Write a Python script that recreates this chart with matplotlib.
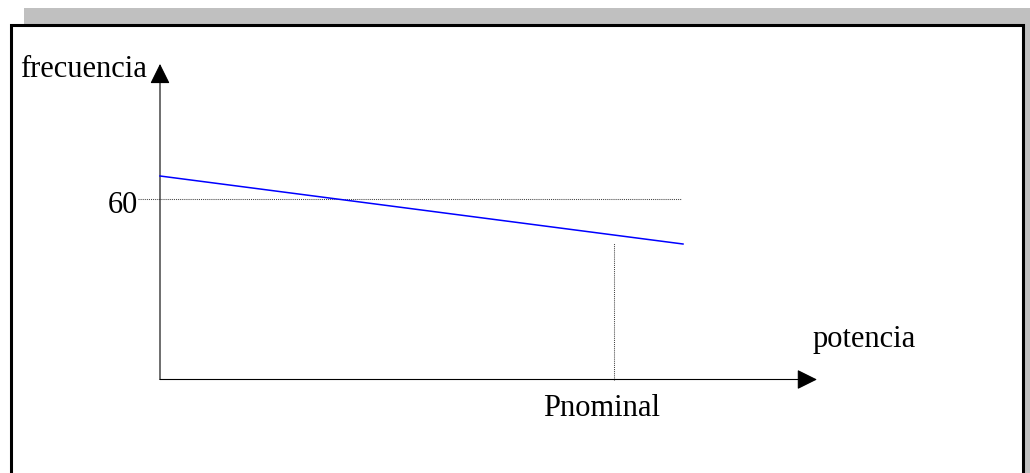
import matplotlib
matplotlib.use('Agg')
import matplotlib.pyplot as plt
from matplotlib.patches import Rectangle

# Diagram values (x: power, Pnominal = 1; y: frequency)
p_nominal = 1.0
f_ref = 60
droop_x = [0.0, 1.152]
droop_f = [67.65, 45.04]
ref_line_x = [-0.048, 1.148]
nominal_top = 45.4
x_axis_end = 1.447
y_axis_end = 104.9

label_y = 'frecuencia'
label_x = 'potencia'
label_nominal = 'Pnominal'
label_ref = '60'

plt.rcParams['font.family'] = ['Liberation Serif', 'DejaVu Serif']

fig = plt.figure(figsize=[10.3, 4.73], dpi=100)
ax = fig.add_axes([0, 0, 1, 1])
ax.set_xlim(-160 / 454, 870 / 454)
ax.set_ylim(-93.5 / 3.0083, 379.5 / 3.0083)
ax.axis('off')

# Shadow and frame
W, H = 1030.0, 473.0
ax.add_patch(Rectangle((24 / W, 0), 1 - 24 / W, 1 - 8 / H, transform=ax.transAxes,
                       facecolor='#c0c0c0', edgecolor='none', zorder=0, clip_on=False))
ax.add_patch(Rectangle((10.5 / W, -10 / H), 1012.5 / W, (473 - 25.5 + 10) / H,
                       transform=ax.transAxes, facecolor='white', edgecolor='black',
                       linewidth=2.2, zorder=0.5, clip_on=False))

arrow = dict(arrowstyle='-|>,head_length=12.5,head_width=6.2', mutation_scale=1,
             color='black', lw=0.8, shrinkA=0, shrinkB=0)
ax.annotate('', xy=(0, y_axis_end), xytext=(0, 0), arrowprops=arrow, zorder=3)
ax.annotate('', xy=(x_axis_end, 0), xytext=(0, 0), arrowprops=arrow, zorder=3)

dotted = dict(color='#444444', lw=0.75, linestyle=(0, (1, 1)), zorder=2)
ax.plot(ref_line_x, [f_ref, f_ref], **dotted)
ax.plot([p_nominal, p_nominal], [0, nominal_top], **dotted)

ax.plot(droop_x, droop_f, color='#0000ff', lw=1.1, zorder=4)

fs = 22
ax.text(-0.029, 100.6, label_y, fontsize=fs, ha='right', va='baseline')
ax.text(-0.048, 55.3, label_ref, fontsize=fs, ha='right', va='baseline')
ax.text(1.438, 10.8, label_x, fontsize=fs, ha='left', va='baseline')
ax.text(0.8436, -12.1, label_nominal, fontsize=fs, ha='left', va='baseline')

fig.savefig('out.png', dpi=100)
